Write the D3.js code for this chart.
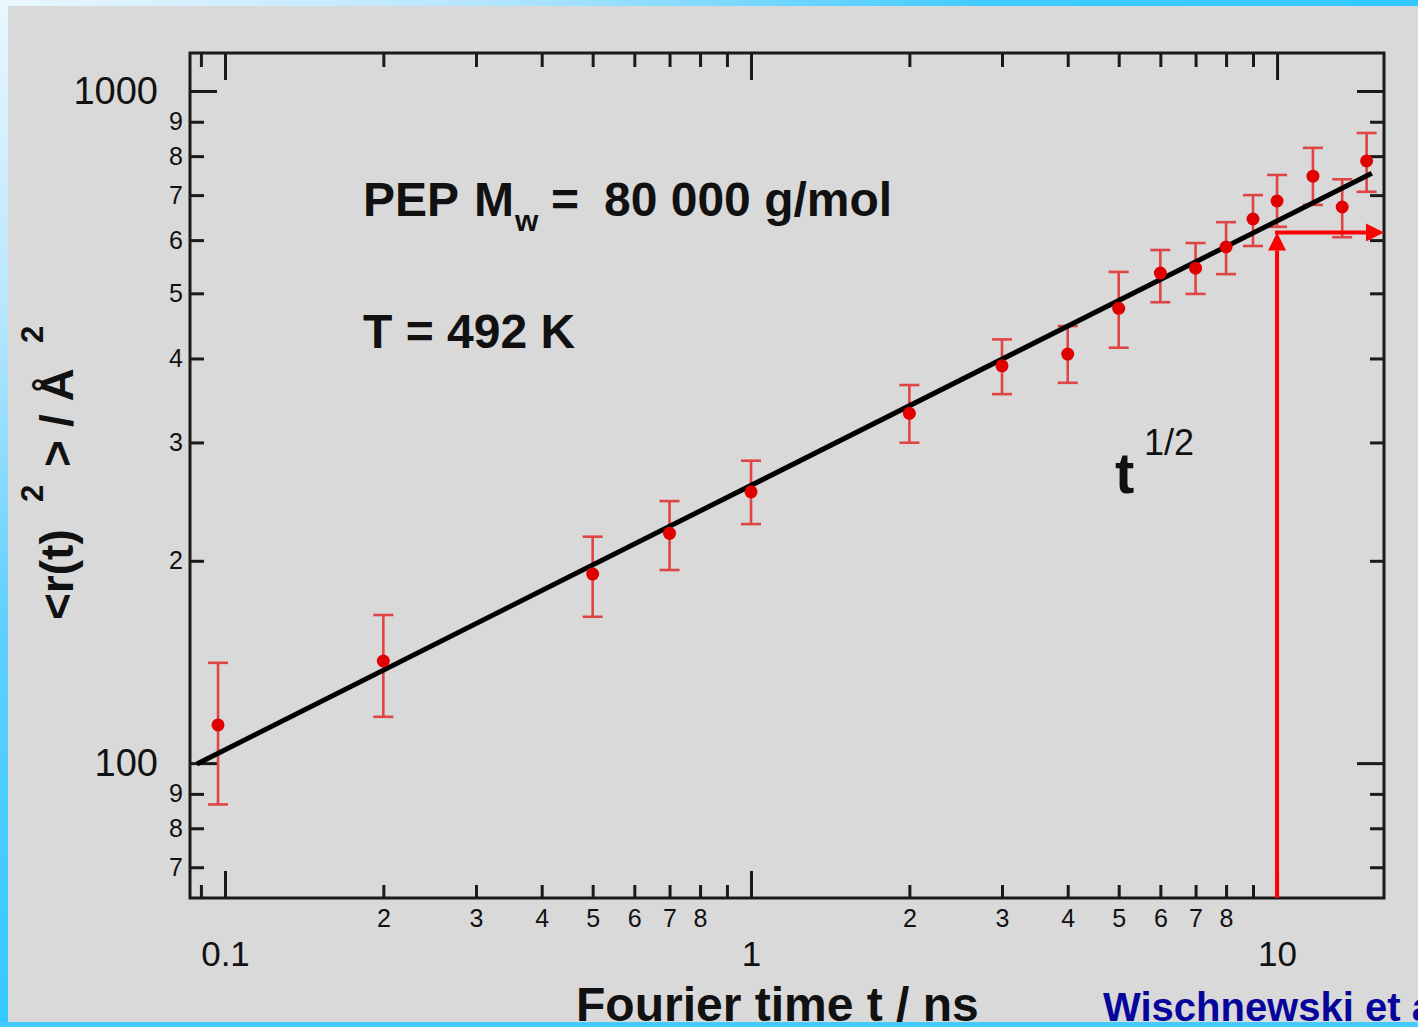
<!DOCTYPE html>
<meta charset="utf-8">
<head>
<style>
    body { margin: 0; overflow: hidden; background: #d9d9d9; }
    text { font-family: "Liberation Sans", Arial, sans-serif; fill: #111; }
    .big { font-size: 48px; font-weight: bold; }
</style>
<script src="https://cdn.jsdelivr.net/npm/d3@7"></script>
</head>
<body>
<svg id="chart" width="1418" height="1027"></svg>
<script>
// data (t in ns, <r^2> in A^2)
var times   = [0.097, 0.2, 0.5, 0.7, 1, 2, 3, 4, 5, 6, 7, 8, 9, 10, 11.7, 13.3, 14.8];
var msd     = [114, 141.9, 191.1, 219.7, 253.3, 331.5, 390, 406, 475, 536, 545, 586, 645, 686, 747, 672, 787];
var errHigh = [141, 166.1, 217.2, 245.4, 281.8, 365.2, 427, 447, 538, 580, 594, 638, 700, 750, 823, 739, 866];
var errLow  = [86.8, 117.2, 165.1, 193.8, 226.8, 299.7, 354, 368, 415, 485, 499, 534, 588, 628, 677, 606, 708];

// fitted power law, two end points
var fitTimes = [0.0884, 15.14];
var fitMsd   = [99.7, 754.4];

// red arrows
var arrowTime = 10;
var arrowMsd  = 616;

// axes
var xDomain = [0.0858, 15.97];
var yDomain = [63.0, 1139];
var xMajor = [0.1, 1, 10];
var xMinor = [0.09, 0.2, 0.3, 0.4, 0.5, 0.6, 0.7, 0.8, 0.9, 2, 3, 4, 5, 6, 7, 8, 9];
var xMinorLabeled = [0.2, 0.3, 0.4, 0.5, 0.6, 0.7, 0.8, 2, 3, 4, 5, 6, 7, 8];
var yMajor = [100, 1000];
var yMinor = [70, 80, 90, 200, 300, 400, 500, 600, 700, 800, 900];

var pLeft = 190, pRight = 1384, pTop = 53, pBottom = 898;

var svg = d3.select("#chart");
var defs = svg.append("defs");

var gTop = defs.append("linearGradient").attr("id", "gtop");
gTop.append("stop").attr("offset", 0).attr("stop-color", "#eaf7ff");
gTop.append("stop").attr("offset", 0.33).attr("stop-color", "#b8e6ff");
gTop.append("stop").attr("offset", 0.7).attr("stop-color", "#40cbff");
gTop.append("stop").attr("offset", 1).attr("stop-color", "#33c9ff");

var gLeft = defs.append("linearGradient").attr("id", "gleft")
    .attr("x1", 0).attr("y1", 0).attr("x2", 0).attr("y2", 1);
gLeft.append("stop").attr("offset", 0).attr("stop-color", "#eaf7ff");
gLeft.append("stop").attr("offset", 0.3).attr("stop-color", "#b8e6ff");
gLeft.append("stop").attr("offset", 0.6).attr("stop-color", "#60d0ff");
gLeft.append("stop").attr("offset", 1).attr("stop-color", "#33c9ff");

defs.append("clipPath").attr("id", "panel")
    .append("rect").attr("x", 8).attr("y", 6).attr("width", 1410).attr("height", 1016);

// frame of the slide
svg.append("rect").attr("width", 1418).attr("height", 6).attr("fill", "url(#gtop)");
svg.append("rect").attr("width", 8).attr("height", 1027).attr("fill", "url(#gleft)");
svg.append("rect").attr("y", 1022).attr("width", 1418).attr("height", 5).attr("fill", "#45ccff");

var panel = svg.append("g").attr("clip-path", "url(#panel)");
panel.append("rect").attr("x", 8).attr("y", 6).attr("width", 1410).attr("height", 1016).attr("fill", "#d9d9d9");

var x = d3.scaleLog().domain(xDomain).range([pLeft, pRight]);
var y = d3.scaleLog().domain(yDomain).range([pBottom, pTop]);

function lead(d) { return Math.round(d / Math.pow(10, Math.floor(Math.log10(d) + 1e-9))); }

function styleAxis(g) {
    g.select(".domain").remove();
    g.selectAll("line").attr("stroke", "#1a1a1a").attr("stroke-width", 3);
    g.attr("font-family", null).attr("font-size", null);
    g.selectAll("text").attr("fill", "#1a1a1a");
}

// bottom
panel.append("g").attr("transform", "translate(0," + pBottom + ")")
    .call(d3.axisBottom(x).tickValues(xMinor).tickSize(-13).tickPadding(11)
        .tickFormat(function (d) { return xMinorLabeled.indexOf(d) > -1 ? lead(d) : ""; }))
    .call(styleAxis).selectAll("text").style("font-size", "25px");
panel.append("g").attr("transform", "translate(0," + pBottom + ")")
    .call(d3.axisBottom(x).tickValues(xMajor).tickSize(-27).tickPadding(43)
        .tickFormat(function (d) { return d < 1 ? d.toFixed(1) : d; }))
    .call(styleAxis).selectAll("text").style("font-size", "35px");

// top
panel.append("g").attr("transform", "translate(0," + pTop + ")")
    .call(d3.axisTop(x).tickValues(xMinor).tickSize(-14).tickFormat(""))
    .call(styleAxis);
panel.append("g").attr("transform", "translate(0," + pTop + ")")
    .call(d3.axisTop(x).tickValues(xMajor).tickSize(-27).tickFormat(""))
    .call(styleAxis);

// left
panel.append("g").attr("transform", "translate(" + pLeft + ",0)")
    .call(d3.axisLeft(y).tickValues(yMinor).tickSize(-14).tickPadding(7).tickFormat(lead))
    .call(styleAxis).selectAll("text").style("font-size", "25px");
panel.append("g").attr("transform", "translate(" + pLeft + ",0)")
    .call(d3.axisLeft(y).tickValues(yMajor).tickSize(-27).tickPadding(32).tickFormat(d3.format("d")))
    .call(styleAxis).selectAll("text").style("font-size", "38px");

// right
panel.append("g").attr("transform", "translate(" + pRight + ",0)")
    .call(d3.axisRight(y).tickValues(yMinor).tickSize(-14).tickFormat(""))
    .call(styleAxis);
panel.append("g").attr("transform", "translate(" + pRight + ",0)")
    .call(d3.axisRight(y).tickValues(yMajor).tickSize(-27).tickFormat(""))
    .call(styleAxis);

panel.append("rect")
    .attr("x", pLeft).attr("y", pTop).attr("width", pRight - pLeft).attr("height", pBottom - pTop)
    .attr("fill", "none").attr("stroke", "#1a1a1a").attr("stroke-width", 3);

// error bars and points
var pts = times.map(function (t, i) { return { t: t, v: msd[i], lo: errLow[i], hi: errHigh[i] }; });
var bars = panel.append("g").attr("stroke", "#e03535").attr("stroke-width", 2.6).attr("opacity", 0.9);
pts.forEach(function (d) {
    var cx = x(d.t);
    bars.append("line").attr("x1", cx).attr("x2", cx).attr("y1", y(d.lo)).attr("y2", y(d.hi));
    bars.append("line").attr("x1", cx - 10).attr("x2", cx + 10).attr("y1", y(d.lo)).attr("y2", y(d.lo));
    bars.append("line").attr("x1", cx - 10).attr("x2", cx + 10).attr("y1", y(d.hi)).attr("y2", y(d.hi));
});

// fit line
panel.append("path")
    .datum(fitTimes.map(function (t, i) { return [t, fitMsd[i]]; }))
    .attr("fill", "none").attr("stroke", "#000").attr("stroke-width", 5)
    .attr("d", d3.line().x(function (d) { return x(d[0]); }).y(function (d) { return y(d[1]); }));

panel.append("g").selectAll("circle").data(pts).enter().append("circle")
    .attr("cx", function (d) { return x(d.t); })
    .attr("cy", function (d) { return y(d.v); })
    .attr("r", 6.5).attr("fill", "#e00000");

// arrows
var ax = x(arrowTime), ay = y(arrowMsd), ah = 18, aw = 9;
var arrows = panel.append("g");
arrows.append("line").attr("x1", ax).attr("x2", ax).attr("y1", pBottom).attr("y2", ay + ah)
    .attr("stroke", "#ff0000").attr("stroke-width", 4);
arrows.append("path").attr("fill", "#ff0000")
    .attr("d", "M" + ax + "," + ay + "L" + (ax + aw) + "," + (ay + ah) + "L" + (ax - aw) + "," + (ay + ah) + "Z");
var rx = x(xDomain[1]);
arrows.append("line").attr("x1", ax - 2).attr("x2", rx - ah).attr("y1", ay).attr("y2", ay)
    .attr("stroke", "#ff0000").attr("stroke-width", 4);
arrows.append("path").attr("fill", "#ff0000")
    .attr("d", "M" + rx + "," + ay + "L" + (rx - ah) + "," + (ay - aw) + "L" + (rx - ah) + "," + (ay + aw) + "Z");

// annotations
panel.append("text").attr("class", "big").attr("x", 363).attr("y", 216).text("PEP");
panel.append("text").attr("class", "big").attr("x", 474).attr("y", 216).text("M");
panel.append("text").attr("x", 515).attr("y", 231).style("font-size", "30px").style("font-weight", "bold").text("w");
panel.append("text").attr("class", "big").attr("x", 551).attr("y", 216).text("=");
panel.append("text").attr("class", "big").attr("x", 604).attr("y", 216).text("80 000 g/mol");
panel.append("text").attr("class", "big").attr("x", 363).attr("y", 348).text("T = 492 K");

panel.append("text").attr("x", 1115).attr("y", 493).style("font-size", "58px").style("font-weight", "bold").text("t");
panel.append("text").attr("x", 1144).attr("y", 455).style("font-size", "36px").text("1/2");

// y axis title
var yt = panel.append("g").attr("transform", "translate(73,620) rotate(-90)");
yt.append("text").attr("class", "big").attr("x", 0).attr("y", 0).style("font-size", "46px").text("<r(t)");
yt.append("text").attr("x", 118).attr("y", -30).style("font-size", "31px").style("font-weight", "bold").text("2");
yt.append("text").attr("class", "big").attr("x", 153).attr("y", 0).style("font-size", "46px").text(">");
yt.append("text").attr("class", "big").attr("x", 193).attr("y", 0).style("font-size", "46px").text("/ Å");
yt.append("text").attr("x", 277).attr("y", -30).style("font-size", "31px").style("font-weight", "bold").text("2");

// x axis title and credit
panel.append("text").attr("class", "big").attr("x", 576).attr("y", 1021)
    .text("Fourier time t / ns");
panel.append("text").attr("x", 1103).attr("y", 1021)
    .style("font-size", "40px").style("font-weight", "bold").style("fill", "#06069c")
    .text("Wischnewski et al.");
</script>
</body>
